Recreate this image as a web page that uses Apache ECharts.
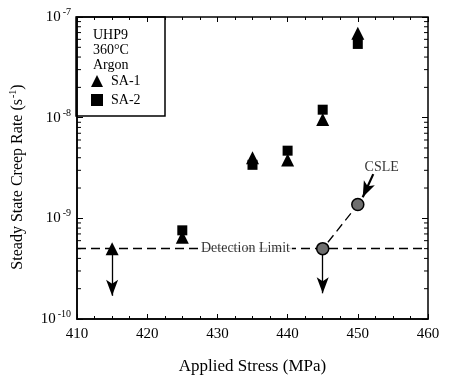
<!DOCTYPE html>
<html><head><meta charset="utf-8">
<script src="https://cdn.jsdelivr.net/npm/echarts@6/dist/echarts.min.js"></script>
<style>html,body{margin:0;padding:0;background:#fff}#c{width:451px;height:380px}</style>
</head><body><div id="c"></div>
<script>
const xTicks = [410, 420, 430, 440, 450, 460];
const sa1 = [[415, 5.0e-10], [425, 6.5e-10], [435, 4.0e-9], [440, 3.8e-9], [445, 9.6e-9], [450, 6.9e-8]];
const sa2 = [[425, 7.6e-10], [435, 3.4e-9], [440, 4.7e-9], [445, 1.2e-8], [450, 5.4e-8]];
const csle = [[445, 5.0e-10], [450, 1.37e-9]];
const csleLine = [[444.5, 4.5e-10], [450, 1.37e-9]];
const detectionLimit = 5.0e-10;
const detectionLabel = [434, 5.0e-10];
const downArrows = [[415, 5.0e-10, 1.7e-10], [445, 5.0e-10, 1.8e-10]];
const csleArrow = [[452.2, 2.75e-9], [450.7, 1.62e-9]];
const csleLabel = [453.4, 3.2e-9];

const FONT = 'Liberation Serif';
const minorY = [];
for (let e = -10; e < -7; e++) for (let k = 2; k <= 9; k++) minorY.push(k * Math.pow(10, e));

const chart = echarts.init(document.getElementById('c'));
const supFmt = v => '{b|10}{s|' + Math.round(Math.log10(v)) + '}';
const dash = {color: '#000', width: 1.3, type: [9, 5]};

chart.setOption({
  animation: false,
  backgroundColor: '#fff',
  grid: {left: 76, right: 23, top: 17, bottom: 57, show: true, borderColor: '#000', borderWidth: 1.5, backgroundColor: 'transparent'},
  title: {text: 'UHP9\n360°C\nArgon', left: 88, top: 23,
    textStyle: {fontFamily: FONT, fontSize: 14, fontWeight: 'normal', color: '#000', lineHeight: 15}},
  legend: {orient: 'vertical', left: 91, top: 74, padding: 0, itemGap: 5, itemWidth: 12, itemHeight: 12,
    data: [{name: 'SA-1', icon: 'triangle'}, {name: 'SA-2', icon: 'rect'}],
    textStyle: {fontFamily: FONT, fontSize: 14, color: '#000', padding: [0, 0, 0, 3]}},
  graphic: [{type: 'rect', shape: {x: 76, y: 17, width: 89, height: 99}, style: {fill: 'none', stroke: '#000', lineWidth: 1.5}, z: 10}],
  xAxis: [{
    type: 'value', min: 410, max: 460, interval: 10, position: 'bottom',
    name: 'Applied Stress (MPa)', nameLocation: 'middle', nameGap: 39,
    nameTextStyle: {fontFamily: FONT, fontSize: 17, color: '#000'},
    axisLine: {lineStyle: {color: '#000', width: 1.5}},
    axisTick: {inside: true, length: 5, lineStyle: {color: '#000'}},
    minorTick: {show: true, splitNumber: 4, length: 3, lineStyle: {color: '#000'}},
    splitLine: {show: false},
    axisLabel: {fontFamily: FONT, fontSize: 15, color: '#000', margin: 8,
      formatter: v => xTicks.includes(v) ? String(v) : ''}
  }, {
    type: 'value', min: 410, max: 460, interval: 10, position: 'top',
    axisLine: {show: false},
    axisTick: {inside: true, length: 5, lineStyle: {color: '#000'}},
    minorTick: {show: true, splitNumber: 4, length: 3, lineStyle: {color: '#000'}},
    splitLine: {show: false}, axisLabel: {show: false}
  }],
  yAxis: [{
    type: 'log', logBase: 10, min: 1e-10, max: 1e-7, position: 'left',
    name: '{t|Steady State Creep Rate (s}{s|-1}{t|)}', nameLocation: 'middle', nameGap: 50, nameRotate: 90,
    nameTextStyle: {padding: [0, 18, 0, 0], rich: {t: {fontFamily: FONT, fontSize: 16, color: '#000'},
      s: {fontFamily: FONT, fontSize: 10, color: '#000', padding: [0, 0, 9, 1]}}},
    axisLine: {lineStyle: {color: '#000', width: 1.5}},
    axisTick: {inside: true, length: 6, lineStyle: {color: '#000'}},
    splitLine: {show: false},
    axisLabel: {formatter: supFmt, margin: 6,
      rich: {b: {fontFamily: FONT, fontSize: 15, color: '#000'},
        s: {fontFamily: FONT, fontSize: 10, color: '#000', padding: [0, 0, 9, 2]}}}
  }, {
    type: 'log', logBase: 10, min: 1e-10, max: 1e-7, position: 'right',
    axisLine: {show: false},
    axisTick: {inside: true, length: 6, lineStyle: {color: '#000'}},
    splitLine: {show: false}, axisLabel: {show: false}
  }],
  series: [
    {type: 'custom', name: 'minorY', silent: true, z: 1,
      data: minorY.map(v => [410, v]),
      renderItem: (params, api) => {
        const v = api.value(1);
        const a = api.coord([410, v]);
        const b = api.coord([460, v]);
        const st = {stroke: '#000', lineWidth: 1};
        return {type: 'group', children: [
          {type: 'line', shape: {x1: a[0], y1: a[1], x2: a[0] + 4, y2: a[1]}, style: st},
          {type: 'line', shape: {x1: b[0], y1: b[1], x2: b[0] - 4, y2: b[1]}, style: st}
        ]};
      }},
    {type: 'line', name: 'detection', data: [], z: 2,
      markLine: {silent: true, symbol: ['none', 'none'], lineStyle: dash, label: {show: false},
        data: [[{coord: [410, detectionLimit]}, {coord: [460, detectionLimit]}]]}},
    {type: 'scatter', name: 'detText', data: [detectionLabel], symbolSize: 0, zlevel: 1,
      label: {show: true, position: 'inside', formatter: 'Detection Limit', fontFamily: FONT, fontSize: 14, color: '#000',
        backgroundColor: '#fff', padding: [1, 2]}},
    {type: 'line', name: 'csleLine', data: csleLine, symbol: 'none', lineStyle: dash, z: 3},
    {type: 'line', name: 'arrows', data: [], z: 4,
      markLine: {silent: true, symbol: ['none', 'arrow'], symbolSize: [9, 16],
        lineStyle: {color: '#000', width: 1.3, type: 'solid'}, label: {show: false},
        data: downArrows.map(d => [{coord: [d[0], d[1]]}, {coord: [d[0], d[2]]}]).concat([
          [{coord: csleArrow[0], lineStyle: {width: 2.2}, symbolSize: [10, 15]}, {coord: csleArrow[1]}]])}},
    {type: 'scatter', name: 'CSLE', data: csle, symbol: 'circle', symbolSize: 12, z: 5,
      itemStyle: {color: '#6e6e6e', borderColor: '#000', borderWidth: 1.5, opacity: 1}},
    {type: 'scatter', name: 'SA-1', data: sa1, symbol: 'triangle', symbolSize: 13, z: 6,
      itemStyle: {color: '#000', opacity: 1}},
    {type: 'scatter', name: 'SA-2', data: sa2, symbol: 'rect', symbolSize: 10, z: 6,
      itemStyle: {color: '#000', opacity: 1}},
    {type: 'scatter', name: 'csleText', data: [csleLabel], symbolSize: 0, z: 7,
      label: {show: true, position: 'inside', formatter: 'CSLE', fontFamily: FONT, fontSize: 14, color: '#000'}}
  ]
});
</script></body></html>
